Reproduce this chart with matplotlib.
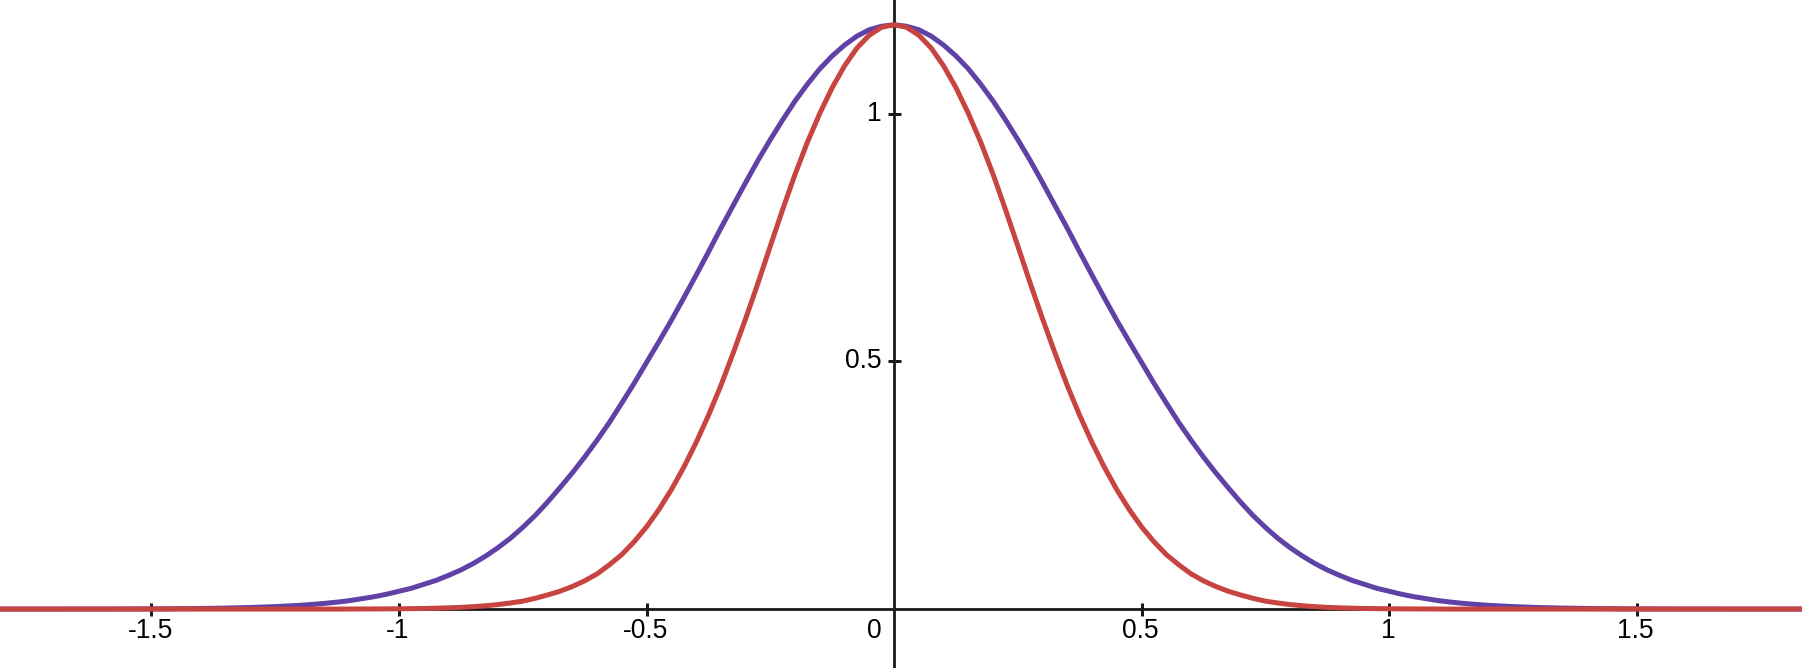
import matplotlib
matplotlib.use("Agg")
import matplotlib.pyplot as plt

# ---- data (two symmetric bell curves) ----
x_vals = [-1.85, -1.80, -1.75, -1.70, -1.65, -1.60, -1.55, -1.50, -1.45, -1.40,
          -1.35, -1.30, -1.25,
          -1.200, -1.175, -1.150, -1.125, -1.100, -1.075, -1.050, -1.025,
          -1.000, -0.975, -0.950, -0.925, -0.900, -0.875, -0.850, -0.825,
          -0.800, -0.775, -0.750, -0.725, -0.700, -0.675, -0.650, -0.625,
          -0.600, -0.575, -0.550, -0.525, -0.500, -0.475, -0.450, -0.425,
          -0.400, -0.375, -0.350, -0.325, -0.300, -0.275, -0.250, -0.225,
          -0.200, -0.175, -0.150, -0.125, -0.100, -0.075, -0.050, -0.025,
          0.000,
          0.025, 0.050, 0.075, 0.100, 0.125, 0.150, 0.175, 0.200,
          0.225, 0.250, 0.275, 0.300, 0.325, 0.350, 0.375, 0.400,
          0.425, 0.450, 0.475, 0.500, 0.525, 0.550, 0.575, 0.600,
          0.625, 0.650, 0.675, 0.700, 0.725, 0.750, 0.775, 0.800,
          0.825, 0.850, 0.875, 0.900, 0.925, 0.950, 0.975, 1.000,
          1.025, 1.050, 1.075, 1.100, 1.125, 1.150, 1.175, 1.200,
          1.25, 1.30, 1.35, 1.40, 1.45, 1.50, 1.55, 1.60, 1.65, 1.70,
          1.75, 1.80, 1.85]

purple_vals = [0.0, 0.0, 0.0, 0.0, 0.0001, 0.0001, 0.0002, 0.0004, 0.0007, 0.0012,
               0.0020, 0.0032, 0.0050,
               0.0076, 0.0094, 0.0115, 0.014, 0.017, 0.021, 0.025, 0.030,
               0.036, 0.042, 0.050, 0.058, 0.068, 0.079, 0.092, 0.107,
               0.124, 0.143, 0.165, 0.189, 0.216, 0.245, 0.275, 0.307,
               0.341, 0.377, 0.416, 0.456, 0.498, 0.540, 0.583, 0.628,
               0.674, 0.721, 0.769, 0.815, 0.861, 0.906, 0.948, 0.988,
               1.026, 1.060, 1.091, 1.117, 1.139, 1.157, 1.170, 1.177,
               1.180,
               1.177, 1.170, 1.157, 1.139, 1.117, 1.091, 1.060, 1.026,
               0.988, 0.948, 0.906, 0.861, 0.815, 0.769, 0.721, 0.674,
               0.628, 0.583, 0.540, 0.498, 0.456, 0.416, 0.377, 0.341,
               0.307, 0.275, 0.245, 0.216, 0.189, 0.165, 0.143, 0.124,
               0.107, 0.092, 0.079, 0.068, 0.058, 0.050, 0.042, 0.036,
               0.030, 0.025, 0.021, 0.017, 0.014, 0.0115, 0.0094, 0.0076,
               0.0050, 0.0032, 0.0020, 0.0012, 0.0007, 0.0004, 0.0002, 0.0001, 0.0001, 0.0,
               0.0, 0.0, 0.0]

red_vals = [0.0, 0.0, 0.0, 0.0, 0.0, 0.0, 0.0, 0.0, 0.0, 0.0,
            0.0, 0.0, 0.0,
            0.0, 0.0, 0.0, 0.0, 0.0001, 0.0002, 0.0003, 0.0004,
            0.0006, 0.0009, 0.0012, 0.0018, 0.0025, 0.0035, 0.0049, 0.0067,
            0.0091, 0.0123, 0.016, 0.0217, 0.0285, 0.036, 0.0456, 0.057,
            0.071, 0.0895, 0.110, 0.136, 0.166, 0.201, 0.241, 0.286,
            0.336, 0.391, 0.451, 0.517, 0.586, 0.658, 0.733, 0.807,
            0.878, 0.943, 1.001, 1.053, 1.097, 1.133, 1.159, 1.175,
            1.180,
            1.175, 1.159, 1.133, 1.097, 1.053, 1.001, 0.943, 0.878,
            0.807, 0.733, 0.658, 0.586, 0.517, 0.451, 0.391, 0.336,
            0.286, 0.241, 0.201, 0.166, 0.136, 0.110, 0.0895, 0.071,
            0.057, 0.0456, 0.036, 0.0285, 0.0217, 0.016, 0.0123, 0.0091,
            0.0067, 0.0049, 0.0035, 0.0025, 0.0018, 0.0012, 0.0009, 0.0006,
            0.0004, 0.0003, 0.0002, 0.0001, 0.0, 0.0, 0.0, 0.0,
            0.0, 0.0, 0.0, 0.0, 0.0, 0.0, 0.0, 0.0, 0.0, 0.0,
            0.0, 0.0, 0.0]

x_ticks = [-1.5, -1.0, -0.5, 0.5, 1.0, 1.5]
x_tick_labels = ["-1.5", "-1", "-0.5", "0.5", "1", "1.5"]
y_ticks = [0.5, 1.0]
y_tick_labels = ["0.5", "1"]
origin_label = "0"

# ---- figure ----
DPI = 72
fig = plt.figure(figsize=(1802 / DPI, 668 / DPI), dpi=DPI)
ax = fig.add_axes([0, 0, 1, 1])
ax.set_xlim(-1.806, 1.834)
ax.set_ylim(-0.119, 1.230)
ax.axis("off")

axis_color = "#1a1a1a"
font = ["Liberation Sans", "DejaVu Sans"]
fs = 26.5

# axes lines
ax.axhline(0, color=axis_color, lw=2.8, zorder=1)
ax.axvline(0, color=axis_color, lw=2.8, zorder=1)

# tick marks (crossing axes)
ax.plot(x_ticks, [0] * len(x_ticks), linestyle="none", marker="|",
        markersize=13, markeredgewidth=3, color=axis_color, zorder=1)
ax.plot([0] * len(y_ticks), y_ticks, linestyle="none", marker="_",
        markersize=13, markeredgewidth=3, color=axis_color, zorder=1)

# tick labels
for xv, lab in zip(x_ticks, x_tick_labels):
    ax.annotate(lab, (xv, 0), xytext=(-1, -22), textcoords="offset points",
                ha="center", va="center", fontsize=fs, family=font, color="black")
for yv, lab in zip(y_ticks, y_tick_labels):
    ax.annotate(lab, (0, yv), xytext=(-12, 0), textcoords="offset points",
                ha="right", va="center", fontsize=fs, family=font, color="black")
ax.annotate(origin_label, (0, 0), xytext=(-12, -22), textcoords="offset points",
            ha="right", va="center", fontsize=fs, family=font, color="black")

# curves
ax.plot(x_vals, purple_vals, color="#6042a6", lw=5, zorder=3,
        solid_joinstyle="round", solid_capstyle="round")
ax.plot(x_vals, red_vals, color="#c74440", lw=5, zorder=4,
        solid_joinstyle="round", solid_capstyle="round")

fig.savefig("out.png", dpi=DPI, facecolor="white")
